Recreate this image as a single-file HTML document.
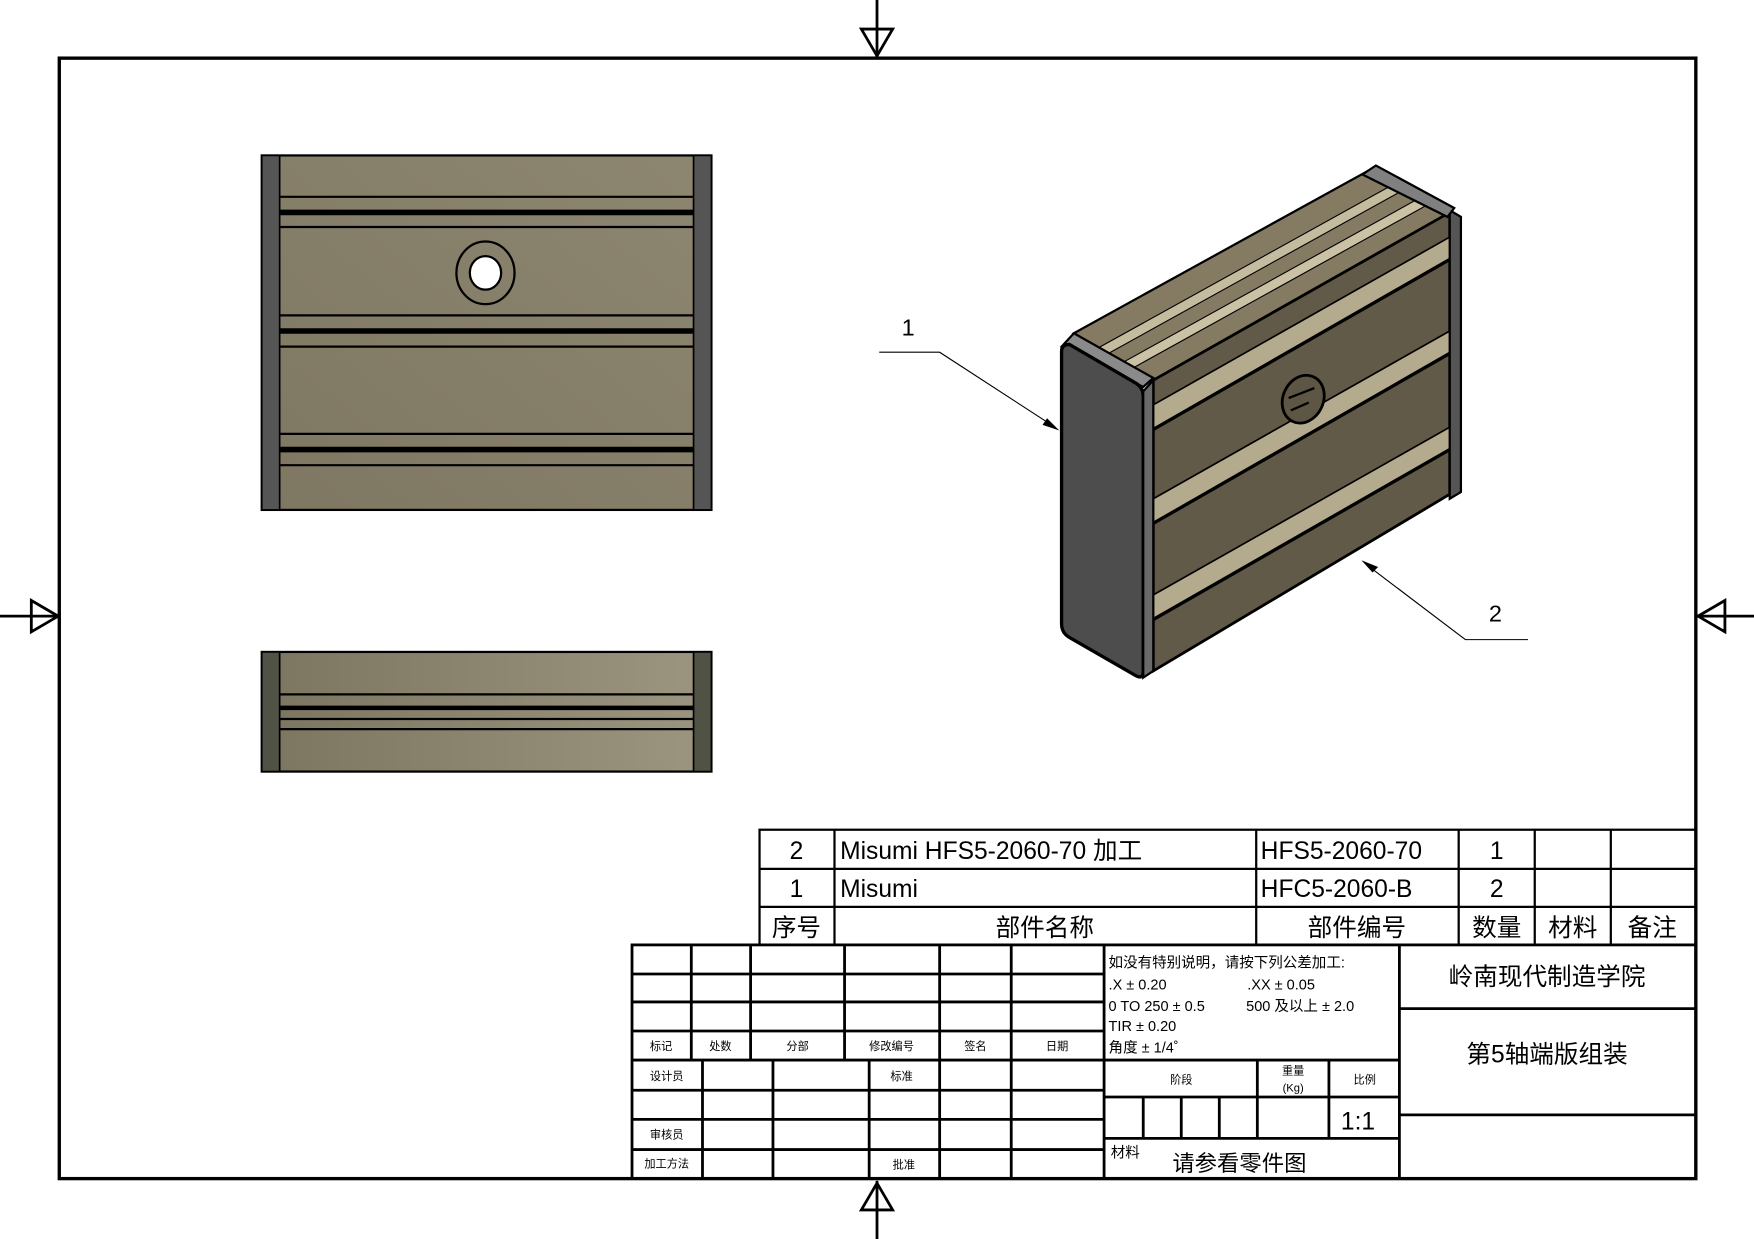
<!DOCTYPE html>
<html><head><meta charset="utf-8"><style>
html,body{margin:0;padding:0;background:#fff;overflow:hidden}
svg{display:block}
text{font-family:"Liberation Sans","Noto Sans CJK SC",sans-serif;fill:#000}
</style></head><body>
<svg width="1754" height="1239" viewBox="0 0 1568 1108" preserveAspectRatio="none" xmlns="http://www.w3.org/2000/svg">
<defs>
<linearGradient id="g1" x1="0" y1="1" x2="1" y2="0"><stop offset="0" stop-color="#7e7762"/><stop offset="1" stop-color="#8d8670"/></linearGradient>
<linearGradient id="g2" x1="0" y1="0" x2="1" y2="0"><stop offset="0" stop-color="#7c7560"/><stop offset="1" stop-color="#9c9580"/></linearGradient>
</defs>
<rect width="1568" height="1108" fill="#fff"/>
<!-- border -->
<rect x="53" y="52" width="1463" height="1002" fill="none" stroke="#000" stroke-width="3"/>
<!-- center markers -->
<g fill="none" stroke="#000" stroke-width="2.5">
<line x1="784" y1="0" x2="784" y2="52"/><polygon points="770,26 798,26 784,50"/>
<line x1="784" y1="1056" x2="784" y2="1108"/><polygon points="770,1082 798,1082 784,1058"/>
<line x1="0" y1="551" x2="53" y2="551"/><polygon points="28,537 28,565 52,551"/>
<line x1="1516" y1="551" x2="1568" y2="551"/><polygon points="1542,537 1542,565 1518,551"/>
</g>
<!-- front view -->
<rect x="234" y="139" width="402" height="317" fill="url(#g1)" stroke="#000" stroke-width="2"/>
<rect x="234" y="139" width="16" height="317" fill="#555" stroke="#000" stroke-width="1.5"/>
<rect x="620" y="139" width="16" height="317" fill="#555" stroke="#000" stroke-width="1.5"/>
<g stroke="#000">
<line x1="250" y1="176" x2="620" y2="176" stroke-width="2"/>
<line x1="250" y1="190" x2="620" y2="190" stroke-width="5"/>
<line x1="250" y1="203" x2="620" y2="203" stroke-width="2"/>
<line x1="250" y1="282" x2="620" y2="282" stroke-width="2"/>
<line x1="250" y1="296" x2="620" y2="296" stroke-width="5"/>
<line x1="250" y1="310" x2="620" y2="310" stroke-width="2"/>
<line x1="250" y1="388" x2="620" y2="388" stroke-width="2"/>
<line x1="250" y1="402" x2="620" y2="402" stroke-width="5"/>
<line x1="250" y1="416" x2="620" y2="416" stroke-width="2"/>
</g>
<ellipse cx="434" cy="244" rx="26" ry="28" fill="none" stroke="#000" stroke-width="2"/>
<ellipse cx="434" cy="244" rx="14" ry="15" fill="#fff" stroke="#000" stroke-width="2"/>
<!-- bottom view -->
<rect x="234" y="583" width="402" height="107" fill="url(#g2)" stroke="#000" stroke-width="2"/>
<rect x="234" y="583" width="16" height="107" fill="#4f5244" stroke="#000" stroke-width="1.5"/>
<rect x="620" y="583" width="16" height="107" fill="#4f5244" stroke="#000" stroke-width="1.5"/>
<g stroke="#000">
<line x1="250" y1="621" x2="620" y2="621" stroke-width="2"/>
<line x1="250" y1="633" x2="620" y2="633" stroke-width="4"/>
<line x1="250" y1="643" x2="620" y2="643" stroke-width="2"/>
<line x1="250" y1="652" x2="620" y2="652" stroke-width="2"/>
</g>
<!-- iso view -->
<polygon points="960,298 1228,150 1296,190 1031,340" fill="#857b63" stroke="#000" stroke-width="2"/>
<polygon points="1004,324 1271,176 1280,181 1013,329" fill="#cbc2a6" stroke="#000" stroke-width="1"/>
<polygon points="982,311 1249,163 1258,168 991,316" fill="#c5bca0" stroke="#000" stroke-width="1"/>
<polygon points="1031,340 1296,190 1296,442 1031,600" fill="#625a48" stroke="#000" stroke-width="2.5"/>
<g stroke="#000" stroke-width="1.5">
<polygon points="1031,362 1296,212 1296,232 1031,384" fill="#b4aa8d"/>
<polygon points="1031,446 1296,296 1296,316 1031,468" fill="#b4aa8d"/>
<polygon points="1031,532 1296,382 1296,402 1031,554" fill="#b4aa8d"/>
</g>
<g stroke="#000" stroke-width="3">
<line x1="1031" y1="384" x2="1296" y2="232"/>
<line x1="1031" y1="468" x2="1296" y2="316"/>
<line x1="1031" y1="554" x2="1296" y2="402"/>
</g>
<ellipse cx="1165" cy="357" rx="18" ry="22" transform="rotate(25 1165 357)" fill="#5e5644" stroke="#000" stroke-width="2.5"/>
<path d="M1152,356 L1175,347 M1154,367 L1170,360" stroke="#000" stroke-width="2" fill="none"/>
<polygon points="1296,188 1306,194 1306,440 1296,446" fill="#555" stroke="#000" stroke-width="2"/>
<polygon points="1218,156 1230,148 1300,186 1294,194" fill="#808080" stroke="#000" stroke-width="2"/>
<polygon points="949,310 960,298 1031,338 1022,346" fill="#8a8a8a" stroke="#000" stroke-width="2"/>
<path d="M949,314 Q949,308 956,308 L1016,343 Q1022,347 1022,354 L1022,600 Q1022,608 1015,604 L956,570 Q949,566 949,558 Z" fill="#4d4d4d" stroke="#000" stroke-width="3"/>
<polygon points="1022,350 1031,340 1031,600 1022,606" fill="#6a6a6a" stroke="#000" stroke-width="2"/>
<!-- leaders -->
<text x="806" y="300" font-size="21">1</text>
<polyline points="786,315 840,315 940,380" fill="none" stroke="#000" stroke-width="1"/>
<polygon points="947,385 932,380 936,374" fill="#000"/>
<text x="1331" y="556" font-size="21">2</text>
<polyline points="1366,572 1310,572 1223,506" fill="none" stroke="#000" stroke-width="1"/>
<polygon points="1217,501 1232,507 1227,512" fill="#000"/>
<!-- parts list -->
<g stroke="#000" stroke-width="2" fill="none">
<rect x="679" y="742" width="837" height="103"/>
<line x1="679" y1="777" x2="1516" y2="777"/>
<line x1="679" y1="811" x2="1516" y2="811"/>
<line x1="746" y1="742" x2="746" y2="845"/>
<line x1="1123" y1="742" x2="1123" y2="845"/>
<line x1="1304" y1="742" x2="1304" y2="845"/>
<line x1="1372" y1="742" x2="1372" y2="845"/>
<line x1="1440" y1="742" x2="1440" y2="845"/>
</g>
<g font-size="22">
<text x="712" y="768" text-anchor="middle">2</text>
<text x="751" y="768">Misumi HFS5-2060-70 加工</text>
<text x="1127" y="768">HFS5-2060-70</text>
<text x="1338" y="768" text-anchor="middle">1</text>
<text x="712" y="802" text-anchor="middle">1</text>
<text x="751" y="802">Misumi</text>
<text x="1127" y="802">HFC5-2060-B</text>
<text x="1338" y="802" text-anchor="middle">2</text>
<text x="712" y="837" text-anchor="middle">序号</text>
<text x="934" y="837" text-anchor="middle">部件名称</text>
<text x="1213" y="837" text-anchor="middle">部件编号</text>
<text x="1338" y="837" text-anchor="middle">数量</text>
<text x="1406" y="837" text-anchor="middle">材料</text>
<text x="1477" y="837" text-anchor="middle">备注</text>
</g>
<!-- title block -->
<g stroke="#000" stroke-width="2.5" fill="none">
<rect x="565" y="845" width="951" height="209"/>
<line x1="565" y1="871" x2="987" y2="871"/>
<line x1="565" y1="896" x2="987" y2="896"/>
<line x1="565" y1="922" x2="987" y2="922"/>
<line x1="565" y1="948" x2="1251" y2="948"/>
<line x1="565" y1="975" x2="987" y2="975"/>
<line x1="565" y1="1001" x2="987" y2="1001"/>
<line x1="565" y1="1028" x2="987" y2="1028"/>
<line x1="618" y1="845" x2="618" y2="948"/>
<line x1="671" y1="845" x2="671" y2="948"/>
<line x1="755" y1="845" x2="755" y2="948"/>
<line x1="840" y1="845" x2="840" y2="948"/>
<line x1="904" y1="845" x2="904" y2="1054"/>
<line x1="628" y1="948" x2="628" y2="1054"/>
<line x1="691" y1="948" x2="691" y2="1054"/>
<line x1="777" y1="948" x2="777" y2="1054"/>
<line x1="840" y1="948" x2="840" y2="1054"/>
<line x1="987" y1="845" x2="987" y2="1054"/>
<line x1="1251" y1="845" x2="1251" y2="1054"/>
<line x1="987" y1="981" x2="1251" y2="981"/>
<line x1="987" y1="1018" x2="1251" y2="1018"/>
<line x1="1124" y1="948" x2="1124" y2="1018"/>
<line x1="1188" y1="948" x2="1188" y2="1018"/>
<line x1="1022" y1="981" x2="1022" y2="1018"/>
<line x1="1056" y1="981" x2="1056" y2="1018"/>
<line x1="1090" y1="981" x2="1090" y2="1018"/>
<line x1="1251" y1="902" x2="1516" y2="902"/>
<line x1="1251" y1="997" x2="1516" y2="997"/>
</g>
<g font-size="10" fill="#333" text-anchor="middle">
<text x="591" y="939">标记</text><text x="644" y="939">处数</text><text x="713" y="939">分部</text>
<text x="797" y="939">修改编号</text><text x="872" y="939">签名</text><text x="945" y="939">日期</text>
<text x="596" y="966">设计员</text><text x="806" y="966">标准</text>
<text x="596" y="1018">审核员</text><text x="596" y="1044">加工方法</text><text x="808" y="1045">批准</text>
<text x="1056" y="969">阶段</text><text x="1156" y="961">重量</text><text x="1156" y="976">(Kg)</text>
<text x="1220" y="969">比例</text>
</g>
<g font-size="13">
<text x="991" y="865">如没有特别说明，请按下列公差加工:</text>
<text x="991" y="885">.X ± 0.20</text><text x="1115" y="885">.XX ± 0.05</text>
<text x="991" y="904">0 TO 250 ± 0.5</text><text x="1114" y="904">500 及以上 ± 2.0</text>
<text x="991" y="922">TIR ± 0.20</text>
<text x="991" y="941">角度 ± 1/4˚</text>
<text x="993" y="1035">材料</text>
</g>
<text x="1048" y="1047" font-size="20">请参看零件图</text>
<text x="1214" y="1010" font-size="22" text-anchor="middle">1:1</text>
<text x="1383" y="881" font-size="22" text-anchor="middle">岭南现代制造学院</text>
<text x="1383" y="950" font-size="22" text-anchor="middle">第5轴端版组装</text>
</svg>
</body></html>
